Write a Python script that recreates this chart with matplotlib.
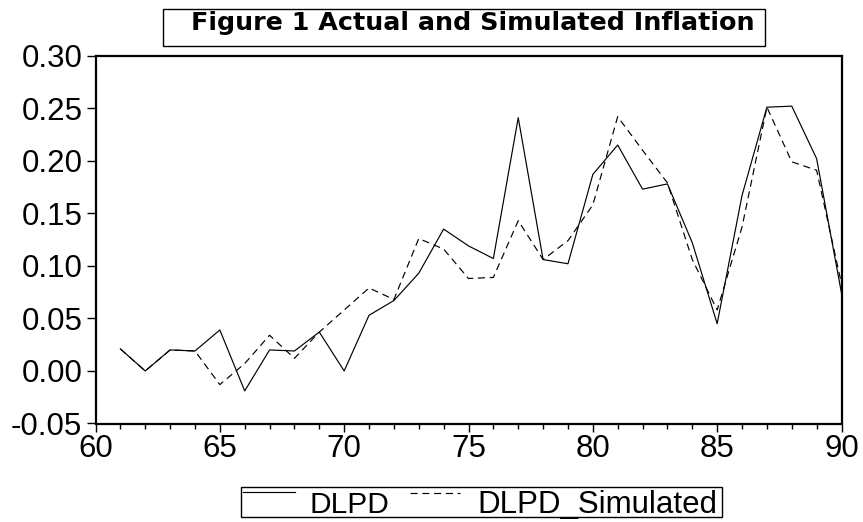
import matplotlib
matplotlib.use('Agg')
import matplotlib.pyplot as plt
from matplotlib.patches import Rectangle
from matplotlib.lines import Line2D
from matplotlib.ticker import MultipleLocator, FuncFormatter

# data
years = list(range(61, 91))
dlpd = [0.021, 0.000, 0.020, 0.019, 0.039, -0.019, 0.020, 0.019, 0.037, 0.000,
        0.053, 0.067, 0.093, 0.135, 0.119, 0.107, 0.241, 0.106, 0.102, 0.187,
        0.215, 0.173, 0.178, 0.122, 0.045, 0.167, 0.251, 0.252, 0.202, 0.074]
dlpd_sim = [0.021, 0.000, 0.020, 0.019, -0.013, 0.007, 0.034, 0.012, 0.037, 0.058,
            0.079, 0.068, 0.126, 0.116, 0.088, 0.089, 0.143, 0.106, 0.124, 0.158,
            0.242, 0.210, 0.179, 0.106, 0.058, 0.137, 0.251, 0.199, 0.191, 0.083]
title = 'Figure 1 Actual and Simulated Inflation'
labels = ['DLPD', 'DLPD_Simulated']

plt.rcParams['font.family'] = ['Liberation Sans', 'DejaVu Sans']
plt.rcParams['axes.unicode_minus'] = False

W, H = 863, 522
fig = plt.figure(figsize=(W / 100, H / 100), dpi=100)
ax = fig.add_axes([95.5 / W, 1 - 423.5 / H, (841.5 - 95.5) / W, (423.5 - 55.7) / H])

ax.plot(years, dlpd, color='black', lw=0.85)
ax.plot(years, dlpd_sim, color='black', lw=0.85, dashes=(6, 4))

ax.set_xlim(60, 90)
ax.set_ylim(-0.05, 0.30)
ax.xaxis.set_major_locator(MultipleLocator(5))
ax.xaxis.set_minor_locator(MultipleLocator(1))
ax.yaxis.set_major_locator(MultipleLocator(0.05))
ax.yaxis.set_major_formatter(FuncFormatter(lambda v, p: '%.2f' % v))

for s in ax.spines.values():
    s.set_linewidth(1.6)
ax.tick_params(axis='y', which='major', length=6.5, width=1, labelsize=22.5, pad=3)
ax.tick_params(axis='x', which='major', length=5.5, width=1, labelsize=22.5, pad=2)
ax.tick_params(axis='x', which='minor', length=3.6, width=1)

# title box
fig.patches.append(Rectangle((163 / W, 1 - 46 / H), (765 - 163) / W, 37 / H,
                             transform=fig.transFigure, fill=False, lw=1, ec='black'))
fig.text(473 / W, 1 - 30 / H, title, ha='center', va='baseline',
         fontsize=18.3, fontweight='bold', family='DejaVu Sans')

# legend box drawn by hand
fig.patches.append(Rectangle((241 / W, 1 - 516.5 / H), (722 - 241) / W, 29.5 / H,
                             transform=fig.transFigure, fill=False, lw=1, ec='black'))
fig.lines.append(Line2D([243 / W, 295 / W], [1 - 492.3 / H] * 2, transform=fig.transFigure,
                        color='black', lw=0.85))
fig.lines.append(Line2D([410 / W, 460 / W], [1 - 493 / H] * 2, transform=fig.transFigure,
                        color='black', lw=0.85, dashes=(6, 4)))
fig.text(309 / W, 1 - 513 / H, labels[0], ha='left', va='baseline', fontsize=21.5)
fig.text(477.5 / W, 1 - 513 / H, labels[1], ha='left', va='baseline', fontsize=22.5)

fig.savefig('out.png', dpi=100)
